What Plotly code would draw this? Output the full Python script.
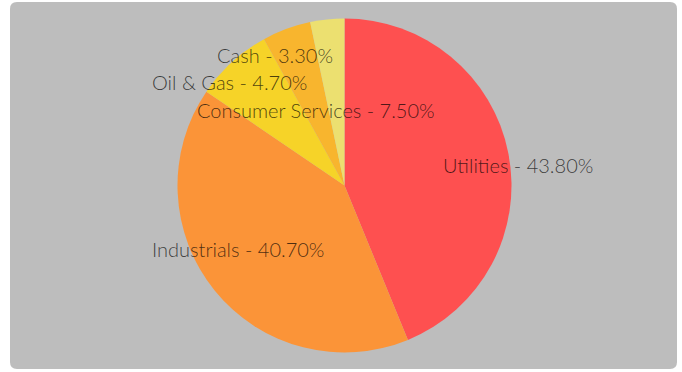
import plotly.graph_objects as go

# Data
sectors = ["Utilities", "Industrials", "Consumer Services", "Oil & Gas", "Cash"]
weights = [43.8, 40.7, 7.5, 4.7, 3.3]
colors = ["#fe5050", "#fb9438", "#f6d328", "#f8b52e", "#ece070"]

# label text anchor positions (pixel layout, centre of each label)
label_pos_px = [(518, 165), (238, 249), (316, 110), (230, 82), (275, 55)]

W, H = 682, 372

fig = go.Figure()
fig.add_trace(go.Pie(
    labels=sectors,
    values=weights,
    sort=False,
    direction="clockwise",
    rotation=0,
    marker=dict(colors=colors, line=dict(width=0)),
    textinfo="none",
    hoverinfo="label+percent",
    showlegend=False,
    domain=dict(x=[177.5 / W, 511.5 / W], y=[1 - 353 / H, 1 - 18 / H]),
))

annotations = []
for name, v, (px, py) in zip(sectors, weights, label_pos_px):
    annotations.append(dict(
        text=f"{name} - {v:.2f}%",
        x=px / W, y=1 - py / H, xref="paper", yref="paper",
        xanchor="center", yanchor="middle", showarrow=False,
        font=dict(family="Lato", size=20, weight=300, color="rgba(0,0,0,0.7)"),
    ))

# rounded grey panel
x0, x1 = 10 / W, 677 / W
y0, y1 = 1 - 369 / H, 1 - 2 / H
rx, ry = 7 / W, 7 / H
path = (f"M {x0+rx},{y1} L {x1-rx},{y1} Q {x1},{y1} {x1},{y1-ry} "
        f"L {x1},{y0+ry} Q {x1},{y0} {x1-rx},{y0} "
        f"L {x0+rx},{y0} Q {x0},{y0} {x0},{y0+ry} "
        f"L {x0},{y1-ry} Q {x0},{y1} {x0+rx},{y1} Z")

fig.update_layout(
    width=W, height=H,
    margin=dict(l=0, r=0, t=0, b=0),
    paper_bgcolor="white",
    plot_bgcolor="white",
    shapes=[dict(type="path", path=path, xref="paper", yref="paper",
                 fillcolor="#bdbdbd", line=dict(width=0), layer="below")],
    annotations=annotations,
)

fig.write_html("out.html", config={"displayModeBar": False})
